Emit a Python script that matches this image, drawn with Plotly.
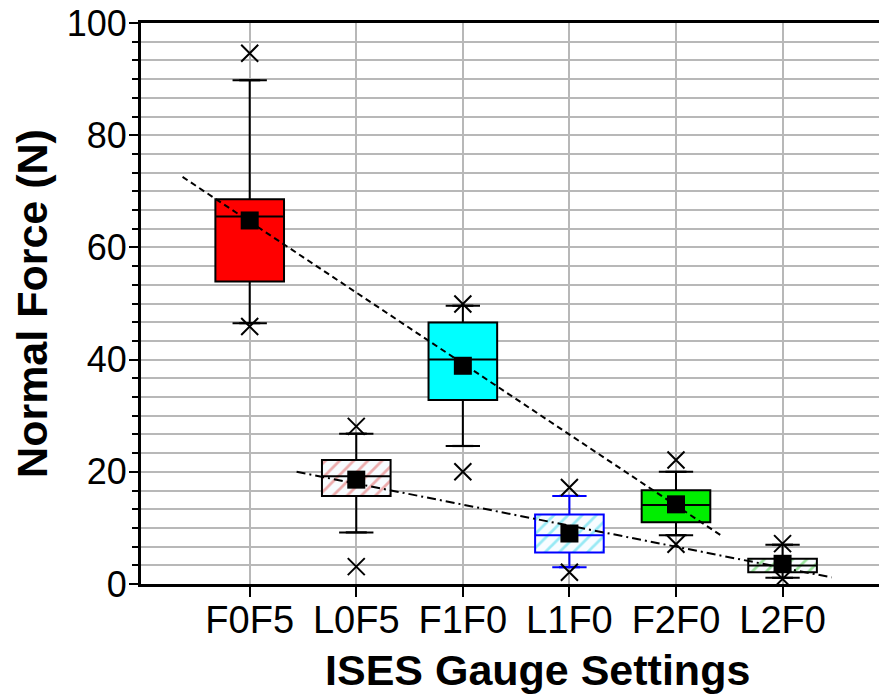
import numpy as np
import plotly.graph_objects as go

# ---- data ----
categories = ["F0F5", "L0F5", "F1F0", "L1F0", "F2F0", "L2F0"]
q1_vals = [53.9, 15.7, 32.8, 5.6, 11.0, 2.1]
median_vals = [65.5, 19.2, 40.0, 8.7, 14.1, 3.3]
q3_vals = [68.6, 22.1, 46.6, 12.4, 16.7, 4.5]
whisker_low = [46.5, 9.2, 24.6, 3.0, 8.7, 1.1]
whisker_high = [89.8, 26.8, 49.6, 15.7, 20.0, 7.0]
mean_vals = [64.8, 18.6, 38.9, 9.0, 14.2, 3.6]
min_vals = [45.9, 3.1, 20.0, 2.1, 7.1, 0.9]
max_vals = [94.6, 28.1, 49.9, 17.2, 22.1, 7.2]

# trend line extents (x in category-index units)
f_trend_span = [-0.63, 4.43]
l_trend_span = [0.44, 5.46]

# ---- styles ----
fill_colors = ["#FF0000", None, "#00FFFF", None, "#00EE00", None]
hatch_colors = [None, "#E05A5A", None, "#38D6EA", None, "#38C838"]
edge_colors = ["black", "black", "black", "#0000FF", "black", "black"]
box_width = 0.644

pos = list(range(len(categories)))
fig = go.Figure()

for i in pos:
    if hatch_colors[i] is not None:
        fig.add_trace(go.Bar(
            x=[i], base=[q1_vals[i]], y=[q3_vals[i] - q1_vals[i]], width=box_width,
            marker=dict(color="white",
                        pattern=dict(shape="/", fgcolor=hatch_colors[i], bgcolor="#F8FCFF",
                                     size=10, solidity=0.28),
                        line=dict(width=0)),
            hoverinfo="skip"))
    fig.add_trace(go.Box(
        x=[i], q1=[q1_vals[i]], median=[median_vals[i]], q3=[q3_vals[i]],
        lowerfence=[whisker_low[i]], upperfence=[whisker_high[i]],
        width=box_width, boxpoints=False,
        fillcolor=fill_colors[i] if fill_colors[i] else "rgba(0,0,0,0)",
        line=dict(color=edge_colors[i], width=2)))
    # whisker caps
    fig.add_trace(go.Scatter(
        x=[i, i], y=[whisker_low[i], whisker_high[i]], mode="markers",
        marker=dict(symbol="line-ew", size=15, line=dict(color=edge_colors[i], width=2.2)),
        hoverinfo="skip"))

# min / max crosses
fig.add_trace(go.Scatter(
    x=pos + pos, y=min_vals + max_vals, mode="markers",
    marker=dict(symbol="x-thin", size=17, color="black", line=dict(color="black", width=2))))

# trend lines fitted to the means
f_idx = [0, 2, 4]
l_idx = [1, 3, 5]
fs, fi = np.polyfit(f_idx, [mean_vals[k] for k in f_idx], 1)
ls, li = np.polyfit(l_idx, [mean_vals[k] for k in l_idx], 1)
fx = np.array(f_trend_span)
lx = np.array(l_trend_span)
fig.add_trace(go.Scatter(x=fx, y=fs * fx + fi, mode="lines",
                         line=dict(color="black", width=2, dash="6px,4px")))
fig.add_trace(go.Scatter(x=lx, y=ls * lx + li, mode="lines",
                         line=dict(color="black", width=2, dash="9px,4px,2px,4px")))

# means
fig.add_trace(go.Scatter(
    x=pos, y=mean_vals, mode="markers",
    marker=dict(symbol="square", size=18, color="black")))

grid = "#B8B8B8"
# page body has an 8px default margin, so the figure is sized to fit inside it
fig.update_layout(
    width=879, height=686,
    margin=dict(l=133, r=0, t=15, b=110),
    plot_bgcolor="white", paper_bgcolor="white",
    showlegend=False, barmode="overlay", boxmode="overlay",
    font=dict(family="Liberation Sans, Arial, sans-serif", color="black"),
    xaxis=dict(
        range=[-1.02, 5.98], tickvals=pos, ticktext=categories,
        ticks="outside", ticklen=10, tickwidth=1.5, tickcolor="black",
        showgrid=True, gridcolor=grid, gridwidth=1.5, zeroline=False,
        showline=True, linewidth=3, linecolor="black", mirror=True,
        tickfont=dict(size=38), automargin=False,
        ticklabelstandoff=-10, ticklabeloverflow="allow"),
    yaxis=dict(
        range=[0, 100], dtick=20, tick0=0,
        ticks="outside", ticklen=9, tickwidth=1.5, tickcolor="black",
        showgrid=True, gridcolor=grid, gridwidth=1.5, zeroline=False,
        showline=True, linewidth=3, linecolor="black",
        tickfont=dict(size=36), automargin=False,
        ticklabelstandoff=-5, ticklabeloverflow="allow",
        minor=dict(dtick=20 / 6, tick0=0, ticks="outside", ticklen=6, tickwidth=1.5,
                   tickcolor="black", showgrid=True, gridcolor=grid, gridwidth=1.5),
        title=dict(text="<b>Normal Force (N)</b>", font=dict(size=43), standoff=19)),
    annotations=[dict(text="<b>ISES Gauge Settings</b>", xref="paper", yref="paper",
                      x=0.532, y=-0.153, xanchor="center", yanchor="middle",
                      showarrow=False, font=dict(size=43))],
)

fig.write_html("out.html")
